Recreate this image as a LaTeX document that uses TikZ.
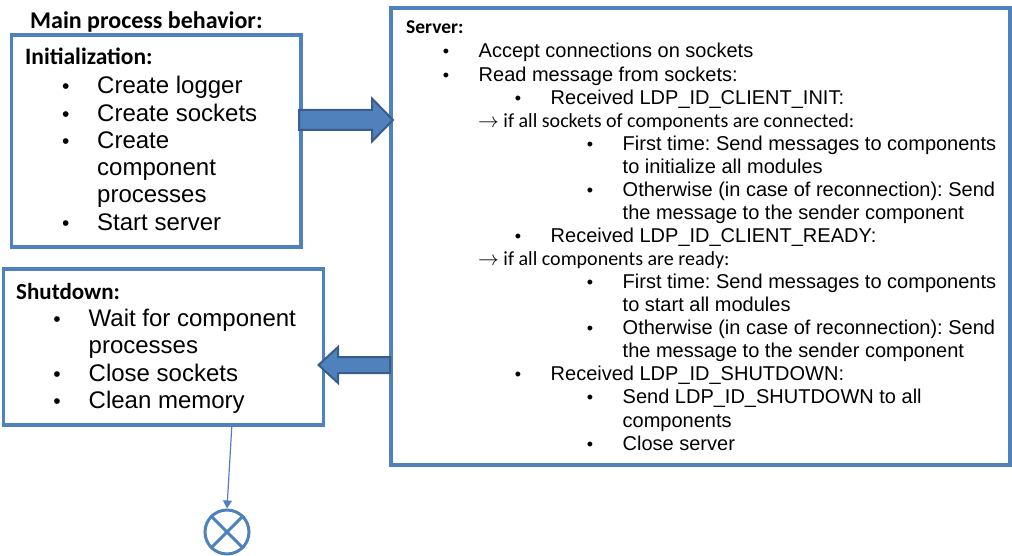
\documentclass[tikz,border=0pt]{standalone}
\usepackage{fontspec}
\setmainfont{Liberation Sans}
\newfontfamily\calfont{Carlito}
\usetikzlibrary{arrows.meta,calc}
\definecolor{bord}{RGB}{79,129,189}
\definecolor{arrd}{RGB}{56,93,138}
\frenchspacing
\begin{document}
\begin{tikzpicture}[x=1pt,y=-1pt,
  box/.style={draw=bord,line width=3.6pt,fill=white,inner sep=0pt},
  blockarrow/.style={fill=bord,draw=arrd,line width=2pt,line join=miter},
  hdr/.style={inner sep=0pt,anchor=base west,font=\calfont\bfseries\fontsize{23.5}{26}\selectfont},
  bigtxt/.style={inner sep=0pt,anchor=base west,font=\fontsize{24}{27}\selectfont},
  bigdot/.style={inner sep=0pt,anchor=base,font=\fontsize{21}{24}\selectfont},
  smtxt/.style={inner sep=0pt,anchor=base west,font=\fontsize{20}{23}\selectfont},
  smdot/.style={inner sep=0pt,anchor=base,font=\fontsize{18}{21}\selectfont},
  cond/.style={inner sep=0pt,anchor=base west,font=\calfont\fontsize{20}{23}\selectfont},
]
\useasboundingbox (0,0) rectangle (1012,556);

% boxes
\node[box,anchor=north west,minimum width=289.5pt,minimum height=212.5pt] (init) at (9.5,33) {};
\node[box,anchor=north west,minimum width=320pt,minimum height=156pt] (shut) at (1.5,267) {};
\node[box,anchor=north west,minimum width=619pt,minimum height=457pt] (server) at (389,6) {};

% title
\node[hdr,font=\calfont\bfseries\fontsize{24}{26}\selectfont] (title) at (30,28.3) {Main process behavior:};

% block arrows
\draw[blockarrow] (299,110) -- (372,110) -- (372,98.5) -- (393,120) -- (372,141.5) -- (372,130) -- (299,130) -- cycle;
\draw[blockarrow] (390,357) -- (338,357) -- (338,347) -- (318.5,365) -- (338,383) -- (338,373) -- (390,373) -- cycle;

% initialization
\node[hdr] (ih) at (25,64.3) {Initialization:};
\node[bigdot] (ib1) at (65.7,94) {•};
\node[bigtxt] (it1) at (97,94) {Create logger};
\node[bigdot] (ib2) at (65.7,121.2) {•};
\node[bigtxt] (it2) at (97,121.2) {Create sockets};
\node[bigdot] (ib3) at (65.7,148.4) {•};
\node[bigtxt] (it3) at (97,148.4) {Create};
\node[bigtxt] (it3b) at (97,175.6) {component};
\node[bigtxt] (it3c) at (97,202.8) {processes};
\node[bigdot] (ib4) at (65.7,230) {•};
\node[bigtxt] (it4) at (97,230) {Start server};

% shutdown
\node[hdr,font=\calfont\bfseries\fontsize{23}{26}\selectfont] (sh) at (16,299.3) {Shutdown:};
\node[bigdot] (sb1) at (57,326.7) {•};
\node[bigtxt] (st1) at (88.5,326.7) {Wait for component};
\node[bigtxt] (st1b) at (88.5,353.9) {processes};
\node[bigdot] (sb2) at (57,381.1) {•};
\node[bigtxt] (st2) at (88.5,381.1) {Close sockets};
\node[bigdot] (sb3) at (57,408.3) {•};
\node[bigtxt] (st3) at (88.5,408.3) {Clean memory};

% server
\node[hdr,font=\calfont\bfseries\fontsize{19.5}{22}\selectfont] (vh) at (406,34) {Server:};
\node[smdot] (vb1) at (446,58) {•};
\node[smtxt] (vt1) at (478.5,58) {Accept connections on sockets};
\node[smdot] (vb2) at (446,81.1) {•};
\node[smtxt] (vt2) at (478.5,81.1) {Read message from sockets:};
\node[smdot] (vb3) at (518,104.1) {•};
\node[smtxt] (vt3) at (550.5,104.1) {Received LDP\_ID\_CLIENT\_INIT:};
\node[cond] (vc1) at (478,127.2) {$\rightarrow$ if all sockets of components are connected:};
\node[smdot] (vb4) at (590,150.2) {•};
\node[smtxt] (vt4) at (622.5,150.2) {First time: Send messages to components};
\node[smtxt] (vt4b) at (622.5,173.3) {to initialize all modules};
\node[smdot] (vb5) at (590,196.4) {•};
\node[smtxt] (vt5) at (622.5,196.4) {Otherwise (in case of reconnection): Send};
\node[smtxt] (vt5b) at (622.5,219.4) {the message to the sender component};
\node[smdot] (vb6) at (518,242.5) {•};
\node[smtxt] (vt6) at (550.5,242.5) {Received LDP\_ID\_CLIENT\_READY:};
\node[cond] (vc2) at (478,265.6) {$\rightarrow$ if all components are ready:};
\node[smdot] (vb7) at (590,288.6) {•};
\node[smtxt] (vt7) at (622.5,288.6) {First time: Send messages to components};
\node[smtxt] (vt7b) at (622.5,311.7) {to start all modules};
\node[smdot] (vb8) at (590,334.7) {•};
\node[smtxt] (vt8) at (622.5,334.7) {Otherwise (in case of reconnection): Send};
\node[smtxt] (vt8b) at (622.5,357.8) {the message to the sender component};
\node[smdot] (vb9) at (518,380.9) {•};
\node[smtxt] (vt9) at (550.5,380.9) {Received LDP\_ID\_SHUTDOWN:};
\node[smdot] (vb10) at (590,403.9) {•};
\node[smtxt] (vt10) at (622.5,403.9) {Send LDP\_ID\_SHUTDOWN to all};
\node[smtxt] (vt10b) at (622.5,427) {components};
\node[smdot] (vb11) at (590,450) {•};
\node[smtxt] (vt11) at (622.5,450) {Close server};

% end event
\node[circle,draw=bord,line width=3pt,minimum size=44pt,inner sep=0pt] (endc) at (227,532) {};
\draw[bord,line width=3pt] (endc.north west) -- (endc.south east) (endc.north east) -- (endc.south west);
\coordinate (sbot) at (232,423);
\draw[bord,line width=1.2pt,-{Triangle[length=8pt,width=9pt]}] (sbot) -- (endc.north);
\end{tikzpicture}
\end{document}
